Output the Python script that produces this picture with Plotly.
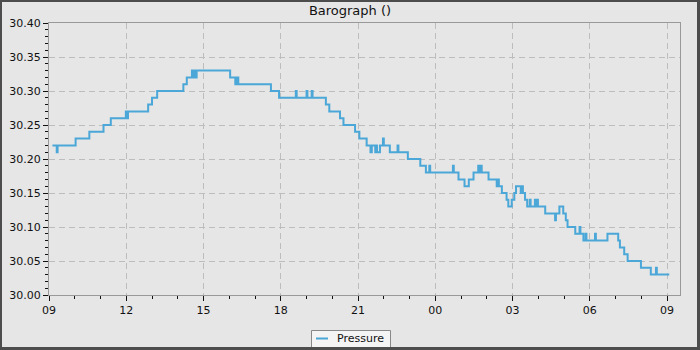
import plotly.graph_objects as go
from datetime import datetime, timedelta

# Step readings: clock time (HH:MM) and pressure (inHg)
times = ["09:08","09:18","09:20","10:02","10:34","11:07","11:24","11:59","12:02","12:04",
         "12:51","13:00","13:12","14:13","14:21","14:33","14:35","14:38","14:41","14:44",
         "16:02","16:14","16:17","16:21","17:37","17:56","18:35","18:37","19:00","19:02",
         "19:12","19:14","19:45","19:53","20:18","20:26","20:53","21:03","21:20","21:29",
         "21:32","21:40","21:42","21:44","21:51","21:58","22:00","22:14","22:32","22:34",
         "22:56","23:25","23:38","23:46","23:48","00:41","00:43","00:54","01:08","01:18",
         "01:29","01:40","01:43","01:45","01:48","02:04","02:23","02:26","02:28","02:35",
         "02:46","02:50","02:58","03:04","03:08","03:19","03:21","03:24","03:29","03:34",
         "03:40","03:42","03:52","03:55","03:57","03:59","04:16","04:39","04:41","04:49",
         "04:58","05:04","05:08","05:26","05:36","05:38","05:45","05:50","05:52","06:12",
         "06:14","06:41","07:06","07:10","07:20","07:28","07:59","08:22","08:34","08:36",
         "09:05"]
pressure = [30.22,30.21,30.22,30.23,30.24,30.25,30.26,30.27,30.26,30.27,
            30.28,30.29,30.30,30.31,30.32,30.33,30.32,30.33,30.32,30.33,
            30.32,30.31,30.32,30.31,30.30,30.29,30.30,30.29,30.30,30.29,
            30.30,30.29,30.28,30.27,30.26,30.25,30.24,30.23,30.22,30.21,
            30.22,30.21,30.22,30.21,30.22,30.23,30.22,30.21,30.22,30.21,
            30.20,30.19,30.18,30.19,30.18,30.19,30.18,30.17,30.16,30.17,
            30.18,30.19,30.18,30.19,30.18,30.17,30.16,30.17,30.16,30.15,
            30.14,30.13,30.14,30.15,30.16,30.15,30.16,30.15,30.14,30.13,
            30.14,30.13,30.14,30.13,30.14,30.13,30.12,30.11,30.12,30.13,
            30.12,30.11,30.10,30.09,30.10,30.09,30.08,30.09,30.08,30.09,
            30.08,30.09,30.08,30.07,30.06,30.05,30.04,30.03,30.04,30.03,
            30.03]
y_ticks = [30.00, 30.05, 30.10, 30.15, 30.20, 30.25, 30.30, 30.35, 30.40]
series_name = "Pressure"
LINE_COLOR = "#4aa7d8"

start_day = datetime(2024, 1, 1)
xs = []
day = 0
prev = None
for t in times:
    hh, mm = map(int, t.split(":"))
    if prev is not None and (hh, mm) < prev:
        day += 1
    prev = (hh, mm)
    xs.append(start_day + timedelta(days=day, hours=hh, minutes=mm))

x0 = datetime(2024, 1, 1, 9, 0)
x1 = datetime(2024, 1, 2, 9, 30)

FONT = "DejaVu Sans"
fig = go.Figure()
fig.add_trace(go.Scatter(x=xs, y=pressure, mode="lines", name=series_name,
                         line=dict(color=LINE_COLOR, width=2, shape="hv")))

W, H = 700, 350
L, R, T, B = 49, 20, 23, 55
pw, ph = W - L - R, H - T - B

def px(xp):
    return (xp - L) / pw

def py(yp):
    return (H - B - yp) / ph

fig.update_layout(
    width=W, height=H,
    margin=dict(l=L, r=R, t=T, b=B, autoexpand=False),
    paper_bgcolor="#e6e6e6", plot_bgcolor="#e6e6e6",
    font=dict(family=FONT, size=11, color="#111"),
    title=dict(text="Barograph ()", x=0.5, xanchor="center", y=1 - 10 / H, yanchor="middle",
               font=dict(family=FONT, size=13, color="#111")),
    showlegend=False,
    shapes=[
        # custom legend box
        dict(type="rect", xref="paper", yref="paper",
             x0=px(311.5), x1=px(390.5), y0=py(352), y1=py(330.5),
             line=dict(color="#888", width=1), fillcolor="#f4f4f4", layer="above"),
        dict(type="line", xref="paper", yref="paper",
             x0=px(316), x1=px(328), y0=py(338.5), y1=py(338.5),
             line=dict(color=LINE_COLOR, width=2), layer="above"),
        # outer frame
        dict(type="rect", xref="paper", yref="paper",
             x0=px(0.5), x1=px(698.5), y0=py(348.5), y1=py(0.5),
             line=dict(color="#4d4d4d", width=3), fillcolor="rgba(0,0,0,0)",
             layer="above"),
    ],
    annotations=[dict(text=series_name, xref="paper", yref="paper",
                      x=px(335), y=py(338), xanchor="left", yanchor="middle",
                      showarrow=False, font=dict(family=FONT, size=11, color="#111"))],
)
fig.update_xaxes(
    type="date", range=[x0, x1],
    tick0=x0, dtick=3 * 3600000, tickformat="%H",
    showline=True, mirror=True, linecolor="#999", linewidth=1,
    ticks="outside", ticklen=5, tickcolor="#111",
    showgrid=True, gridcolor="#bdbdbd", griddash="6px,4px", gridwidth=1,
    zeroline=False,
    minor=dict(ticks="outside", ticklen=3, dtick=3600000, tick0=x0, tickcolor="#111", showgrid=False),
    tickfont=dict(family=FONT, size=11, color="#111"),
)
fig.update_yaxes(
    range=[30.0, 30.4], tickvals=y_ticks, tickformat=".2f",
    showline=True, mirror=True, linecolor="#999", linewidth=1,
    ticks="outside", ticklen=5, tickcolor="#111",
    showgrid=True, gridcolor="#bdbdbd", griddash="6px,4px", gridwidth=1,
    zeroline=False,
    minor=dict(ticks="outside", ticklen=3, dtick=0.01, tick0=30.0, tickcolor="#111", showgrid=False),
    tickfont=dict(family=FONT, size=11, color="#111"),
)

fig.write_html("out.html")
